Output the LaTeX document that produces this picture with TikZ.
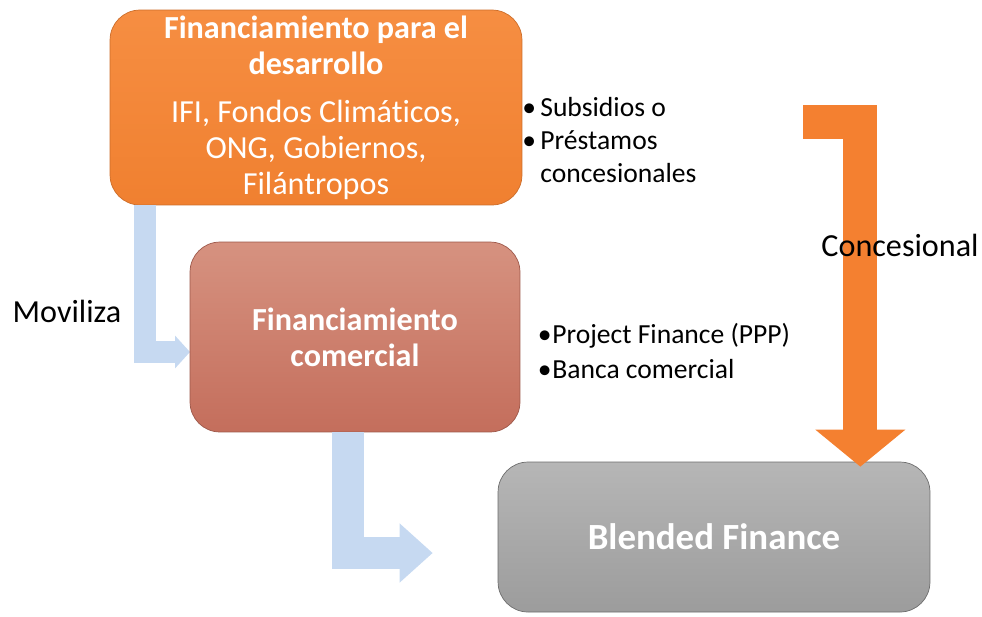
\documentclass[tikz,border=0pt]{standalone}
\usepackage{fontspec}
\setmainfont{Carlito}[Ligatures=NoCommon]
\usetikzlibrary{arrows.meta, positioning}

\definecolor{devorange}{RGB}{240,128,48}
\definecolor{devorangetop}{RGB}{246,142,66}
\definecolor{comtop}{RGB}{214,146,128}
\definecolor{combottom}{RGB}{196,110,92}
\definecolor{blendtop}{RGB}{182,182,182}
\definecolor{blendbottom}{RGB}{156,156,156}
\definecolor{flowblue}{RGB}{198,217,241}
\definecolor{flowarange}{RGB}{244,128,48}

\begin{document}
\begin{tikzpicture}[x=0.02cm, y=-0.02cm, >=Triangle]
				\tikzstyle{box} = [rounded corners=0.6cm, thin, text=white, align=center, inner sep=0pt, font=\fontsize{18.3}{20.4}\selectfont]
				\tikzstyle{label} = [inner sep=0pt, font=\fontsize{18.3}{22}\selectfont]
				\tikzstyle{bullets} = [inner sep=0pt, align=left, anchor=west, font=\fontsize{15.7}{19}\selectfont]
				\tikzstyle{flow} = [draw=flowblue, line join=miter]
				
				\useasboundingbox (0,0) rectangle (982,616);
				
				\node[box, minimum width=8.24cm, minimum height=3.9cm, top color=devorangetop, bottom color=devorange, draw=devorange!85!black]
					at (316, 107.5)	(dev)	{\textbf{Financiamiento para el}\\ \textbf{desarrollo}\\[7pt] IFI, Fondos Climáticos,\\ ONG, Gobiernos,\\ Filántropos};
				
				\draw[flow, line width=0.44cm, -{Triangle[width=0.64cm, length=0.3cm]}]
					([xshift=0.7cm]dev.south west) |- (190, 352);
				
				\node[box, minimum width=6.6cm, minimum height=3.8cm, top color=comtop, bottom color=combottom, draw=combottom!80!black]
					at (355, 337)	(com)	{\textbf{Financiamiento}\\ \textbf{comercial}};
				\node[box, minimum width=8.64cm, minimum height=3cm, top color=blendtop, bottom color=blendbottom, draw=blendbottom!70!black, font=\fontsize{21}{24}\selectfont]
					at (714, 537)	(blend)	{\textbf{Blended Finance}};
				
				\draw[flow, line width=0.64cm, -{Triangle[width=1.14cm, length=0.66cm]}]
					([xshift=3.16cm]com.south west) |- ([xshift=-1.3cm, yshift=-0.32cm]blend.west);
				
				\coordinate (concstart) at (803, 122);
				\draw[draw=flowarange, line join=miter, line width=0.68cm, -{Triangle[width=1.76cm, length=0.74cm]}]
					(concstart) -| ([xshift=-1.4cm, yshift=-0.1cm]blend.north east);
				
				\node[bullets, font=\fontsize{15.7}{18.7}\selectfont] at (522, 140) (devlist)
					{\makebox[0.36cm][l]{\textbullet}Subsidios o\\ \makebox[0.36cm][l]{\textbullet}Préstamos\\ \makebox[0.36cm][l]{}concesionales};
				\node[bullets, font=\fontsize{15.7}{20.4}\selectfont] at (537, 351) (comlist)
					{\makebox[0.3cm][c]{\textbullet}Project Finance (PPP)\\ \makebox[0.3cm][c]{\textbullet}Banca comercial};
				
				\node[label]	at (67, 311)	(moviliza)	{Moviliza};
				\node[label]	at (900, 245)	(concesional)	{Concesional};
\end{tikzpicture}
\end{document}
